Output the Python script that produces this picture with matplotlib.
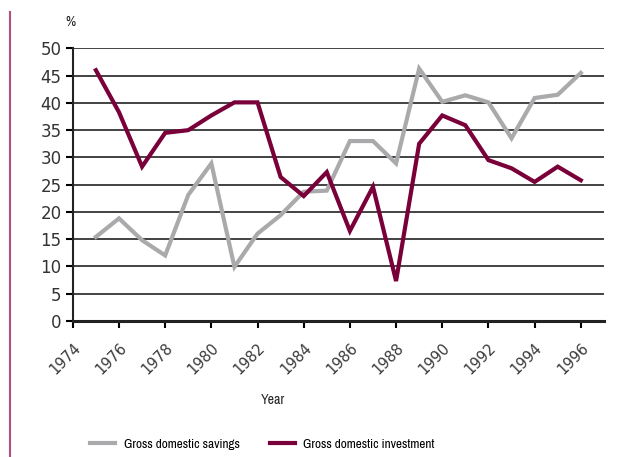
import matplotlib.pyplot as plt
from matplotlib.lines import Line2D
from matplotlib import font_manager

# pick a narrow face if one is installed
names = sorted({f.name for f in font_manager.fontManager.ttflist})
narrow = [n for n in names if 'Narrow' in n or 'Condensed' in n]
plt.rcParams['font.family'] = narrow[:1] + ['DejaVu Sans']

years = list(range(1975, 1997))
savings = [15.4, 18.8, 14.8, 12.0, 23.1, 28.9, 9.9, 16.0, 19.4, 23.7, 23.9,
           33.0, 33.0, 28.9, 46.3, 40.2, 41.4, 40.1, 33.5, 40.9, 41.5, 45.5]
investment = [46.0, 38.3, 28.3, 34.5, 35.0, 37.7, 40.1, 40.1, 26.4, 22.9, 27.3,
              16.5, 24.6, 7.3, 32.5, 37.7, 35.9, 29.5, 28.0, 25.5, 28.3, 25.8]
xticks = list(range(1974, 1997, 2))
yticks = list(range(0, 51, 5))

grey = '#aaaaac'
maroon = '#7a0039'

fig = plt.figure(figsize=(6.33, 4.57), dpi=100)
ax = fig.add_axes([0.115, 0.298, 0.839, 0.596])

ax.plot(years, savings, color=grey, lw=3, solid_joinstyle='miter')
ax.plot(years, investment, color=maroon, lw=3, solid_joinstyle='miter')

ax.set_xlim(1974, 1997)
ax.set_ylim(0, 50)
ax.set_yticks(yticks)
ax.set_yticklabels([str(y) for y in yticks], family='DejaVu Sans',
                   fontsize=12, color='#333333')
ax.set_xticks(xticks)
ax.set_xticklabels([str(x) for x in xticks], rotation=45, ha='right',
                   rotation_mode='anchor', fontsize=10.5, color='#3a3a3a',
                   family='DejaVu Sans')
ax.tick_params(axis='y', length=5, width=1.5, direction='out', pad=3)
ax.tick_params(axis='x', length=5, width=1.5, direction='out', pad=9)

for y in yticks[1:]:
    ax.axhline(y, color='#222222', lw=1.2, zorder=0)

for s in ['top', 'right']:
    ax.spines[s].set_visible(False)
ax.spines['left'].set_linewidth(1.5)
ax.spines['bottom'].set_linewidth(2.2)
ax.spines['left'].set_color('#222222')
ax.spines['bottom'].set_color('#222222')

fig.text(70 / 633, 1 - 22 / 457, '%', fontsize=10, ha='center', va='center',
         color='#222222')
fig.text(273 / 633, 1 - 400 / 457, 'Year', fontsize=10, ha='center',
         va='center', color='#222222')

# legend
handles = [Line2D([], [], color=grey, lw=3),
           Line2D([], [], color=maroon, lw=3)]
fig.legend(handles, ['Gross domestic savings', 'Gross domestic investment'],
           loc='center left', bbox_to_anchor=(78 / 633, 1 - 444 / 457),
           ncol=2, frameon=False, fontsize=9.5, handlelength=1.9,
           columnspacing=2.3, handletextpad=0.65)

# left decorative rule
fig.add_artist(Line2D([9.5 / 633, 9.5 / 633], [0, 1 - 12 / 457],
                      color='#b0507f', lw=1.5))

fig.savefig('out.png', dpi=100)
